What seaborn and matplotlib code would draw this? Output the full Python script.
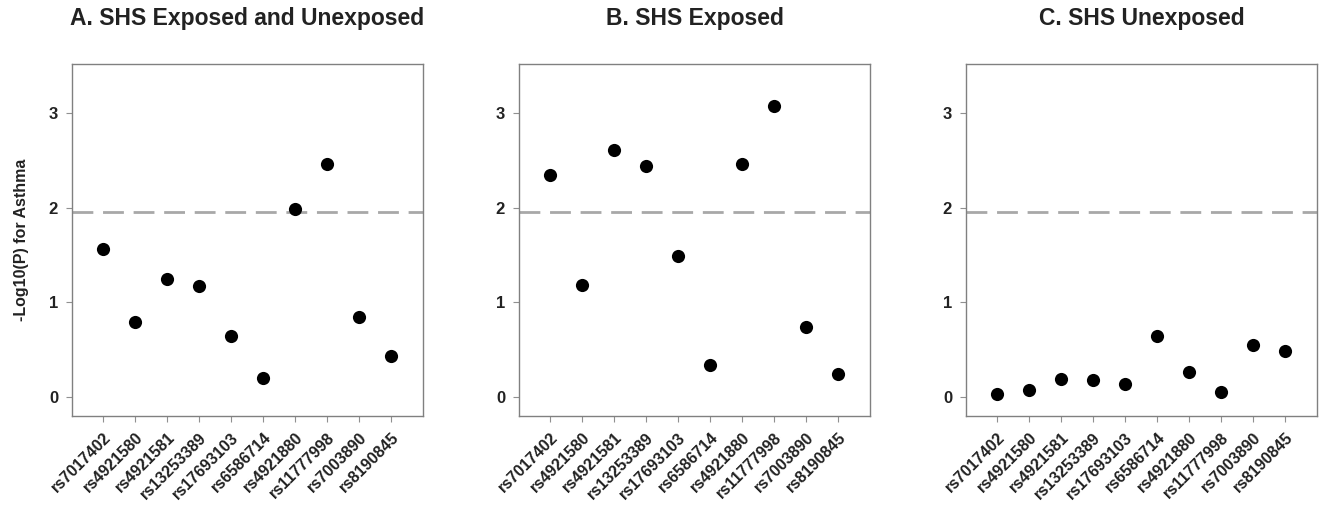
import matplotlib
matplotlib.use("Agg")
import matplotlib.pyplot as plt
import seaborn as sns
import pandas as pd

snps = ["rs7017402", "rs4921580", "rs4921581", "rs13253389", "rs17693103",
        "rs6586714", "rs4921880", "rs11777998", "rs7003890", "rs8190845"]
vals_all = [1.56, 0.79, 1.25, 1.17, 0.65, 0.20, 1.99, 2.46, 0.85, 0.43]
vals_exposed = [2.35, 1.18, 2.61, 2.44, 1.49, 0.34, 2.46, 3.08, 0.74, 0.24]
vals_unexposed = [0.03, 0.07, 0.195, 0.18, 0.14, 0.645, 0.27, 0.05, 0.55, 0.49]
titles = ["A. SHS Exposed and Unexposed", "B. SHS Exposed", "C. SHS Unexposed"]
threshold = 1.96
y_label = "-Log10(P) for Asthma"
y_ticks = [0, 1, 2, 3]

sns.set_style("white")
plt.rcParams['font.family'] = ['Liberation Sans', 'DejaVu Sans']
plt.rcParams['font.weight'] = 'bold'

fig = plt.figure(figsize=(13.26, 5.05), dpi=100)
lefts = [72 / 1326, 519 / 1326, 966 / 1326]
width = 351 / 1326
bottom = 1 - 416 / 505
height = (416 - 64) / 505

series = [vals_all, vals_exposed, vals_unexposed]
for i, (vals, title) in enumerate(zip(series, titles)):
    ax = fig.add_axes([lefts[i], bottom, width, height])
    df = pd.DataFrame({"snp": snps, "val": vals, "pos": range(len(snps))})
    sns.scatterplot(data=df, x="pos", y="val", ax=ax, color="black",
                    s=90, edgecolor="black", linewidth=0, zorder=3)
    ax.axhline(threshold, color="#a8a8a8", lw=2.0, dashes=(7.5, 3.5), zorder=2)
    ax.set_xlim(-0.97, len(snps) - 0.0)
    ax.set_ylim(-0.2, 3.52)
    ax.set_xticks(range(len(snps)))
    ax.set_xticklabels(snps, rotation=45, ha="right", rotation_mode="anchor",
                       fontsize=11.5, fontweight="bold", color="#222222")
    ax.set_yticks(y_ticks)
    ax.set_yticklabels([str(t) for t in y_ticks], fontsize=12, fontweight="bold",
                       color="#222222")
    ax.tick_params(axis="both", which="both", direction="out", length=4,
                   width=0.8, color="#909090", bottom=True, left=True, pad=6)
    for sp in ax.spines.values():
        sp.set_color("#808080")
        sp.set_linewidth(1.0)
    ax.set_xlabel("")
    if i == 0:
        ax.set_ylabel(y_label, fontsize=11.5, fontweight="bold", color="#222222",
                      labelpad=14)
    else:
        ax.set_ylabel("")
    ax.set_title(title, fontsize=16.5, fontweight="bold", color="#222222", pad=28)

fig.savefig("out.png", dpi=100)
